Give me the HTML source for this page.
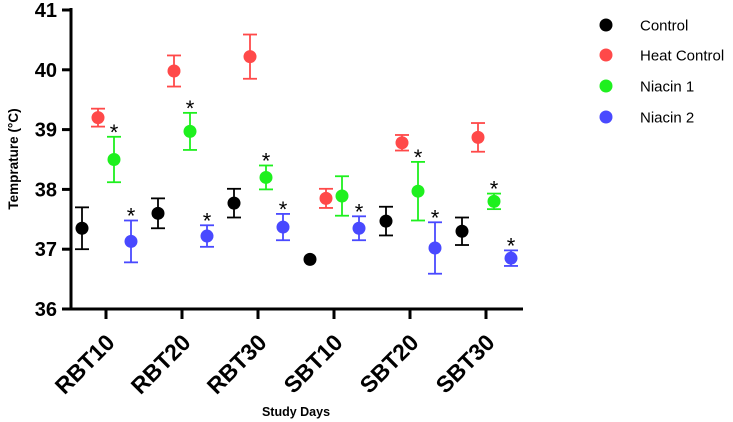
<!DOCTYPE html>
<html><head><meta charset="utf-8"><style>
body{margin:0;background:#fff;}
svg{display:block;font-family:"Liberation Sans",Arial,sans-serif;}
</style></head><body>
<svg id="chart" width="733" height="422" viewBox="0 0 733 422">
<g id="axes"></g><g id="marks"></g><g id="legend"></g>
</svg>
<script>
const categories=["RBT10","RBT20","RBT30","SBT10","SBT20","SBT30"];
const seriesNames=["Control","Heat Control","Niacin 1","Niacin 2"];
const seriesColors=["#000000","#ff3030","#00ee00","#3030ff"];
const controlMean=[37.35,37.6,37.77,36.83,37.47,37.3];
const controlErr=[0.35,0.25,0.24,0,0.24,0.23];
const heatMean=[39.2,39.98,40.22,37.85,38.78,38.87];
const heatErr=[0.15,0.26,0.37,0.16,0.13,0.24];
const niacin1Mean=[38.5,38.97,38.2,37.89,37.97,37.8];
const niacin1Err=[0.38,0.31,0.2,0.33,0.49,0.13];
const niacin2Mean=[37.13,37.22,37.37,37.35,37.02,36.85];
const niacin2Err=[0.35,0.18,0.22,0.2,0.43,0.13];
const niacin1Star=[1,1,1,0,1,1];
const niacin2Star=[1,1,1,1,1,1];
const yTicks=[36,37,38,39,40,41];

const NS="http://www.w3.org/2000/svg";
const y=v=>309-(v-36)*59.8;
const xCat=i=>106+i*76;
const offsets=[-24,-8,8,25];
function mk(tag,attrs,parent,text){const e=document.createElementNS(NS,tag);for(const k in attrs)e.setAttribute(k,attrs[k]);if(text!==undefined)e.textContent=text;parent.appendChild(e);return e;}
const axes=document.getElementById('axes'),marks=document.getElementById('marks'),legend=document.getElementById('legend');
let a=mk('line',{x1:71,y1:8,x2:71,y2:310,stroke:'#000','stroke-width':3},axes);


a=mk('line',{x1:70,y1:309,x2:523,y2:309,stroke:'#000','stroke-width':3},axes);


yTicks.forEach(t=>{
  let l=mk('line',{x1:62,y1:y(t),x2:71,y2:y(t),stroke:'#000','stroke-width':3},axes);
  
  
  let tx=mk('text',{x:57,y:y(t)+7,'text-anchor':'end','font-size':20,'font-weight':'bold'},axes,String(t));
  
  
});
categories.forEach((c,i)=>{
  let l=mk('line',{x1:xCat(i),y1:309,x2:xCat(i),y2:319,stroke:'#000','stroke-width':3},axes);
  
  
  const lx=xCat(i)+10,ly=344;
  let tx=mk('text',{x:lx,y:ly,'text-anchor':'end','font-size':23,'font-weight':'bold',transform:`rotate(-45 ${lx} ${ly})`},axes,c);
  
  
});
let t=mk('text',{x:18,y:159,'text-anchor':'middle','font-size':13.5,'font-weight':'bold',transform:'rotate(-90 18 159)'},axes,'Temprature (°C)');


t=mk('text',{x:296,y:416,'text-anchor':'middle','font-size':12.5,'font-weight':'bold'},axes,'Study Days');



const means=[controlMean,heatMean,niacin1Mean,niacin2Mean];
const errs=[controlErr,heatErr,niacin1Err,niacin2Err];
const stars=[null,null,niacin1Star,niacin2Star];
means.forEach((m,s)=>{
  m.forEach((v,i)=>{
    const cx=xCat(i)+offsets[s],col=seriesColors[s],e=errs[s][i];
    const g=mk('g',{opacity:s===0?1:0.88},marks);
    
    
    if(e>0){
      mk('line',{x1:cx,y1:y(v+e),x2:cx,y2:y(v-e),stroke:col,'stroke-width':1.8},g);
      mk('line',{x1:cx-7,y1:y(v+e),x2:cx+7,y2:y(v+e),stroke:col,'stroke-width':1.8},g);
      mk('line',{x1:cx-7,y1:y(v-e),x2:cx+7,y2:y(v-e),stroke:col,'stroke-width':1.8},g);
    }
    mk('circle',{cx:cx,cy:y(v),r:6.5,fill:col},g);
    if(stars[s]&&stars[s][i]){
      const st=mk('text',{x:cx,y:y(v+e)+3,'text-anchor':'middle','font-size':22,fill:'#000'},marks,'*');
      
      
    }
  });
});
const legY=[25,55,86,117];
seriesNames.forEach((n,s)=>{
  const g=mk('g',{},legend);
  
  
  mk('circle',{cx:606,cy:legY[s],r:6.5,fill:seriesColors[s],opacity:s===0?1:0.88},g);
  mk('text',{x:640,y:legY[s]+5.5,'font-size':15},g,n);
});
</script>
</body></html>
